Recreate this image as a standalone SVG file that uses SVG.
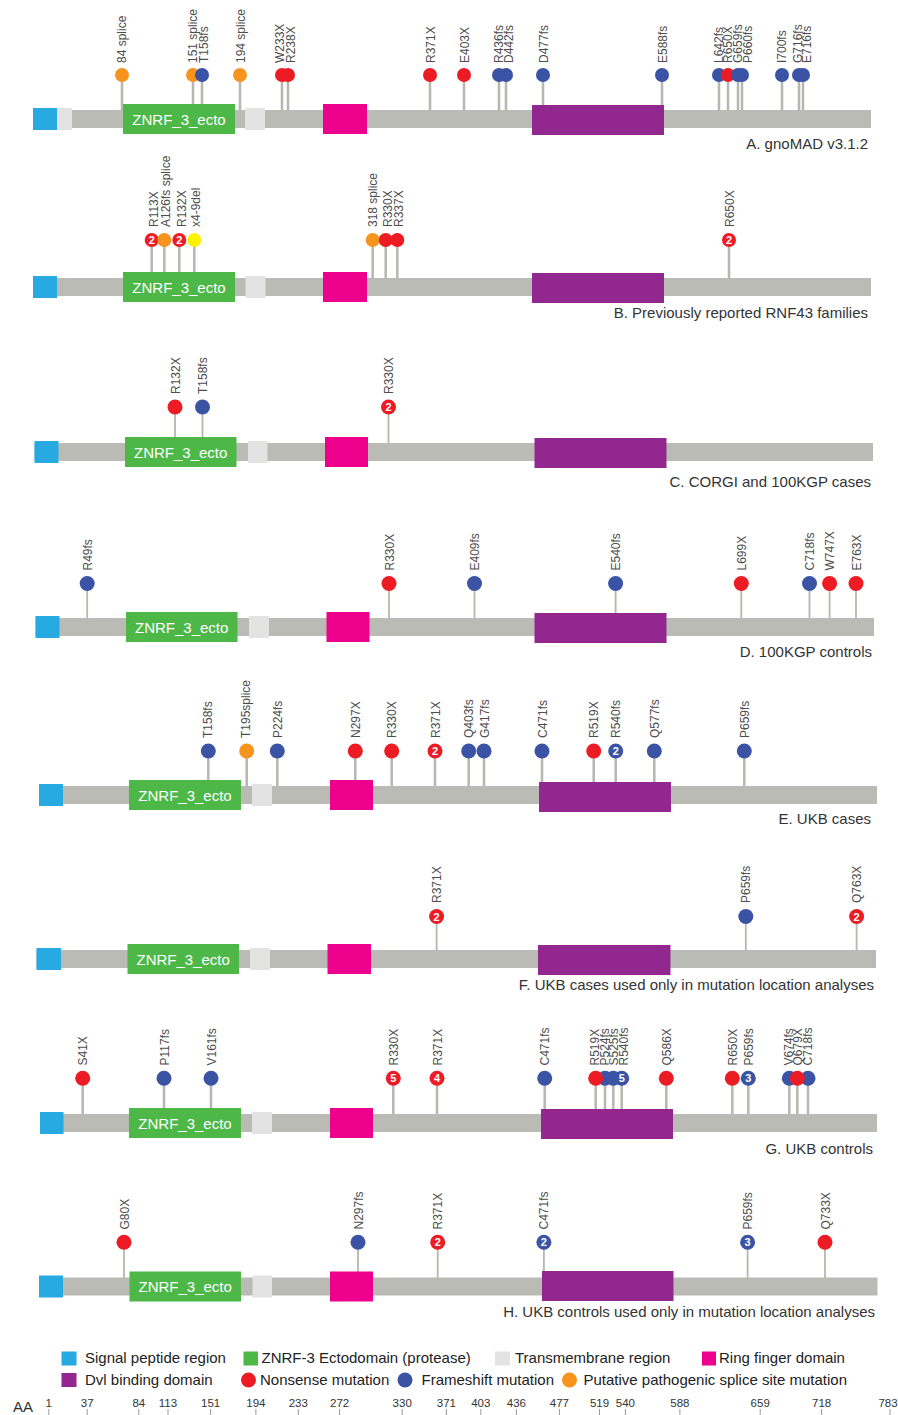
<svg xmlns="http://www.w3.org/2000/svg" width="898" height="1415" viewBox="0 0 898 1415">
<style>
text{font-family:"Liberation Sans",Arial,sans-serif}
.stem{stroke:#b5b7b0;stroke-width:2.5;fill:none}
.stem2{stroke:#b5b7b0;stroke-width:1.8;fill:none}
.lbl{font-size:12px;fill:#4d4d4d}
.num{font-size:11px;font-weight:bold;fill:#fff;text-anchor:middle}
.ttl{font-size:15px;fill:#333;text-anchor:end}
.ectxt{font-size:15px;fill:#fff;text-anchor:middle}
.leg{font-size:15px;fill:#222}
.ax{font-size:11.5px;fill:#333;text-anchor:middle}
.bar{fill:#b9bbb4}
.sig{fill:#27aae1}
.ect{fill:#4db848}
.tm{fill:#e3e3e3}
.ring{fill:#ec008c}
.dvl{fill:#92278f}
.r{fill:#ed1c24}
.b{fill:#3a53a4}
.o{fill:#f7941d}
.y{fill:#fff200}
</style>
<rect width="898" height="1415" fill="#fff"/>

<!-- Panel A -->
<g id="panelA">
<g id="A-connectors"><path class="stem" d="M122 75V119M193 75V119M202 75V119M240 75V119M282 75V119M288 75V119M430 75V119M464 75V119M499 75V119M506 75V119M543 75V119M662 75V119M719 75V119M728 75V119M738 75V119M742 75V119M782 75V119M799 75V119M803 75V119"/></g>
<g id="A-protein">
<rect class="bar" x="33" y="110" width="838" height="18"/>
<rect class="sig" x="33" y="108" width="24" height="22"/>
<rect class="tm" x="57" y="108" width="15" height="22"/>
<rect class="ect" x="123" y="104" width="112" height="30"/><text class="ectxt" x="179" y="124.5">ZNRF_3_ecto</text>
<rect class="tm" x="245" y="108" width="20" height="22"/>
<rect class="ring" x="323" y="104" width="44" height="30"/>
<rect class="dvl" x="532" y="105" width="132" height="30"/>
</g>
<g id="A-84splice"><circle class="o" cx="122" cy="75" r="7"/><text class="lbl" transform="translate(126,63) rotate(-90)">84 splice</text></g>
<g id="A-151splice"><circle class="o" cx="193" cy="75" r="7"/><text class="lbl" transform="translate(196.5,63) rotate(-90)">151 splice</text></g>
<g id="A-T158fs"><circle class="b" cx="202" cy="75" r="7"/><text class="lbl" transform="translate(207.5,63) rotate(-90)">T158fs</text></g>
<g id="A-194splice"><circle class="o" cx="240" cy="75" r="7"/><text class="lbl" transform="translate(244.5,63) rotate(-90)">194 splice</text></g>
<g id="A-W233X"><circle class="r" cx="282" cy="75" r="7"/><text class="lbl" transform="translate(283.5,63) rotate(-90)">W233X</text></g>
<g id="A-R238X"><circle class="r" cx="288" cy="75" r="7"/><text class="lbl" transform="translate(294.5,63) rotate(-90)">R238X</text></g>
<g id="A-R371X"><circle class="r" cx="430" cy="75" r="7"/><text class="lbl" transform="translate(434.5,63) rotate(-90)">R371X</text></g>
<g id="A-E403X"><circle class="r" cx="464" cy="75" r="7"/><text class="lbl" transform="translate(468.5,63) rotate(-90)">E403X</text></g>
<g id="A-R436fs"><circle class="b" cx="499" cy="75" r="7"/><text class="lbl" transform="translate(502.5,63) rotate(-90)">R436fs</text></g>
<g id="A-D442fs"><circle class="b" cx="506" cy="75" r="7"/><text class="lbl" transform="translate(513,63) rotate(-90)">D442fs</text></g>
<g id="A-D477fs"><circle class="b" cx="543" cy="75" r="7"/><text class="lbl" transform="translate(547.5,63) rotate(-90)">D477fs</text></g>
<g id="A-E588fs"><circle class="b" cx="662" cy="75" r="7"/><text class="lbl" transform="translate(666.5,63) rotate(-90)">E588fs</text></g>
<g id="A-L642fs"><circle class="b" cx="719" cy="75" r="7"/><text class="lbl" transform="translate(722.5,63) rotate(-90)">L642fs</text></g>
<g id="A-R650X"><circle class="r" cx="728" cy="75" r="7"/><text class="lbl" transform="translate(731.5,63) rotate(-90)">R650X</text></g>
<g id="A-G659fs"><circle class="b" cx="738" cy="75" r="7"/><text class="lbl" transform="translate(741.5,63) rotate(-90)">G659fs</text></g>
<g id="A-P660fs"><circle class="b" cx="742" cy="75" r="7"/><text class="lbl" transform="translate(751.5,63) rotate(-90)">P660fs</text></g>
<g id="A-I700fs"><circle class="b" cx="782" cy="75" r="7"/><text class="lbl" transform="translate(786,63) rotate(-90)">I700fs</text></g>
<g id="A-G716fs"><circle class="b" cx="799" cy="75" r="7"/><text class="lbl" transform="translate(801.5,63) rotate(-90)">G716fs</text></g>
<g id="A-E716fs"><circle class="b" cx="803" cy="75" r="7"/><text class="lbl" transform="translate(811,63) rotate(-90)">E716fs</text></g>
<text class="ttl" x="868" y="149">A. gnoMAD v3.1.2</text>
</g>

<!-- Panel B -->
<g id="panelB">
<g id="B-connectors"><path class="stem" d="M151.7 240V287M164.3 240V287M179.3 240V287M194.3 240V287M372.7 240V287M385.7 240V287M397.3 240V287M729 240V287"/></g>
<g id="B-protein">
<rect class="bar" x="33" y="278" width="838" height="18"/>
<rect class="sig" x="33" y="276" width="24" height="22"/>
<rect class="ect" x="123" y="272" width="112" height="30"/><text class="ectxt" x="179" y="292.5">ZNRF_3_ecto</text>
<rect class="tm" x="245.5" y="276" width="20" height="22"/>
<rect class="ring" x="323" y="272" width="44" height="30"/>
<rect class="dvl" x="532" y="273" width="132" height="30"/>
</g>
<g id="B-R113X"><circle class="r" cx="151.7" cy="240" r="7"/><text class="num" x="151.7" y="244">2</text><text class="lbl" transform="translate(158,227) rotate(-90)">R113X</text></g>
<g id="B-A126fs"><circle class="o" cx="164.3" cy="240" r="7"/><text class="lbl" transform="translate(170,227) rotate(-90)">A126fs splice</text></g>
<g id="B-R132X"><circle class="r" cx="179.3" cy="240" r="7"/><text class="num" x="179.3" y="244">2</text><text class="lbl" transform="translate(185.5,227) rotate(-90)">R132X</text></g>
<g id="B-x4-9del"><circle class="y" cx="194.3" cy="240" r="7"/><text class="lbl" transform="translate(200,227) rotate(-90)">x4-9del</text></g>
<g id="B-318splice"><circle class="o" cx="372.7" cy="240" r="7"/><text class="lbl" transform="translate(377,227) rotate(-90)">318 splice</text></g>
<g id="B-R330X"><circle class="r" cx="385.7" cy="240" r="7"/><text class="lbl" transform="translate(391.5,227) rotate(-90)">R330X</text></g>
<g id="B-R337X"><circle class="r" cx="397.3" cy="240" r="7"/><text class="lbl" transform="translate(403,227) rotate(-90)">R337X</text></g>
<g id="B-R650X"><circle class="r" cx="729" cy="240" r="7"/><text class="num" x="729" y="244">2</text><text class="lbl" transform="translate(733.5,227) rotate(-90)">R650X</text></g>
<text class="ttl" x="868" y="318">B. Previously reported RNF43 families</text>
</g>

<!-- Panel C -->
<g id="panelC">
<g id="C-connectors"><path class="stem2" d="M175 407V452M202.5 407V452M388.5 407V452"/></g>
<g id="C-protein">
<rect class="bar" x="34.5" y="443" width="838.5" height="18"/>
<rect class="sig" x="34.5" y="441" width="24" height="22"/>
<rect class="ect" x="125" y="437" width="111.5" height="30"/><text class="ectxt" x="180.7" y="457.5">ZNRF_3_ecto</text>
<rect class="tm" x="248" y="441" width="19.5" height="22"/>
<rect class="ring" x="325" y="437" width="43" height="30"/>
<rect class="dvl" x="534.5" y="438" width="132" height="30"/>
</g>
<g id="C-R132X"><circle class="r" cx="175" cy="407" r="7.5"/><text class="lbl" transform="translate(179.5,394) rotate(-90)">R132X</text></g>
<g id="C-T158fs"><circle class="b" cx="202.5" cy="407" r="7.5"/><text class="lbl" transform="translate(207,394) rotate(-90)">T158fs</text></g>
<g id="C-R330X"><circle class="r" cx="388.5" cy="407" r="7.5"/><text class="num" x="388.5" y="411">2</text><text class="lbl" transform="translate(393,394) rotate(-90)">R330X</text></g>
<text class="ttl" x="871" y="487">C. CORGI and 100KGP cases</text>
</g>

<!-- Panel D -->
<g id="panelD">
<g id="D-connectors"><path class="stem2" d="M87.2 583.5V627M389 583.5V627M474.5 583.5V627M615.6 583.5V627M741.3 583.5V627M809.5 583.5V627M829.6 583.5V627M856 583.5V627"/></g>
<g id="D-protein">
<rect class="bar" x="35.5" y="618" width="838.5" height="18"/>
<rect class="sig" x="35.5" y="616" width="24" height="22"/>
<rect class="ect" x="126" y="612" width="111.5" height="30"/><text class="ectxt" x="181.7" y="632.5">ZNRF_3_ecto</text>
<rect class="tm" x="249" y="616" width="20" height="22"/>
<rect class="ring" x="326.5" y="612" width="43" height="30"/>
<rect class="dvl" x="534.5" y="613" width="132" height="30"/>
</g>
<g id="D-R49fs"><circle class="b" cx="87.2" cy="583.5" r="7.5"/><text class="lbl" transform="translate(91.7,570.5) rotate(-90)">R49fs</text></g>
<g id="D-R330X"><circle class="r" cx="389" cy="583.5" r="7.5"/><text class="lbl" transform="translate(393.5,570.5) rotate(-90)">R330X</text></g>
<g id="D-E409fs"><circle class="b" cx="474.5" cy="583.5" r="7.5"/><text class="lbl" transform="translate(479,570.5) rotate(-90)">E409fs</text></g>
<g id="D-E540fs"><circle class="b" cx="615.6" cy="583.5" r="7.5"/><text class="lbl" transform="translate(620,570.5) rotate(-90)">E540fs</text></g>
<g id="D-L699X"><circle class="r" cx="741.3" cy="583.5" r="7.5"/><text class="lbl" transform="translate(745.8,570.5) rotate(-90)">L699X</text></g>
<g id="D-C718fs"><circle class="b" cx="809.5" cy="583.5" r="7.5"/><text class="lbl" transform="translate(814,570.5) rotate(-90)">C718fs</text></g>
<g id="D-W747X"><circle class="r" cx="829.6" cy="583.5" r="7.5"/><text class="lbl" transform="translate(834,570.5) rotate(-90)">W747X</text></g>
<g id="D-E763X"><circle class="r" cx="856" cy="583.5" r="7.5"/><text class="lbl" transform="translate(860.5,570.5) rotate(-90)">E763X</text></g>
<text class="ttl" x="872" y="657">D. 100KGP controls</text>
</g>

<!-- Panel E -->
<g id="panelE">
<g id="E-connectors"><path class="stem" d="M208.3 751V795M246.7 751V795M277.3 751V795M355.3 751V795M391.7 751V795M435 751V795M468.7 751V795M484 751V795M542 751V795M593.7 751V795M615.7 751V795M654.3 751V795M744.3 751V795"/></g>
<g id="E-protein">
<rect class="bar" x="39" y="786" width="838" height="18"/>
<rect class="sig" x="39" y="784" width="24" height="22"/>
<rect class="ect" x="129" y="780" width="112" height="30"/><text class="ectxt" x="185" y="800.5">ZNRF_3_ecto</text>
<rect class="tm" x="252" y="784" width="20" height="22"/>
<rect class="ring" x="330" y="780" width="43" height="30"/>
<rect class="dvl" x="539" y="782" width="132" height="30"/>
</g>
<g id="E-T158fs"><circle class="b" cx="208.3" cy="751" r="7.5"/><text class="lbl" transform="translate(212.3,738) rotate(-90)">T158fs</text></g>
<g id="E-T195splice"><circle class="o" cx="246.7" cy="751" r="7.5"/><text class="lbl" transform="translate(249.5,738) rotate(-90)">T195splice</text></g>
<g id="E-P224fs"><circle class="b" cx="277.3" cy="751" r="7.5"/><text class="lbl" transform="translate(281.8,738) rotate(-90)">P224fs</text></g>
<g id="E-N297X"><circle class="r" cx="355.3" cy="751" r="7.5"/><text class="lbl" transform="translate(359.8,738) rotate(-90)">N297X</text></g>
<g id="E-R330X"><circle class="r" cx="391.7" cy="751" r="7.5"/><text class="lbl" transform="translate(396.2,738) rotate(-90)">R330X</text></g>
<g id="E-R371X"><circle class="r" cx="435" cy="751" r="7.5"/><text class="num" x="435" y="755">2</text><text class="lbl" transform="translate(439.5,738) rotate(-90)">R371X</text></g>
<g id="E-Q403fs"><circle class="b" cx="468.7" cy="751" r="7.5"/><text class="lbl" transform="translate(473.2,738) rotate(-90)">Q403fs</text></g>
<g id="E-G417fs"><circle class="b" cx="484" cy="751" r="7.5"/><text class="lbl" transform="translate(488.5,738) rotate(-90)">G417fs</text></g>
<g id="E-C471fs"><circle class="b" cx="542" cy="751" r="7.5"/><text class="lbl" transform="translate(546.5,738) rotate(-90)">C471fs</text></g>
<g id="E-R519X"><circle class="r" cx="593.7" cy="751" r="7.5"/><text class="lbl" transform="translate(598.2,738) rotate(-90)">R519X</text></g>
<g id="E-R540fs"><circle class="b" cx="615.7" cy="751" r="7.5"/><text class="num" x="615.7" y="755">2</text><text class="lbl" transform="translate(620.2,738) rotate(-90)">R540fs</text></g>
<g id="E-Q577fs"><circle class="b" cx="654.3" cy="751" r="7.5"/><text class="lbl" transform="translate(658.8,738) rotate(-90)">Q577fs</text></g>
<g id="E-P659fs"><circle class="b" cx="744.3" cy="751" r="7.5"/><text class="lbl" transform="translate(748.8,738) rotate(-90)">P659fs</text></g>
<text class="ttl" x="871" y="824">E. UKB cases</text>
</g>

<!-- Panel F -->
<g id="panelF">
<g id="F-connectors"><path class="stem2" d="M436.6 916.5V959M745.8 916.5V959M856.6 916.5V959"/></g>
<g id="F-protein">
<rect class="bar" x="36.5" y="950" width="839.5" height="18"/>
<rect class="sig" x="36.5" y="948" width="24.5" height="22"/>
<rect class="ect" x="127.5" y="944" width="111.5" height="30"/><text class="ectxt" x="183.2" y="964.5">ZNRF_3_ecto</text>
<rect class="tm" x="250" y="948" width="20" height="22"/>
<rect class="ring" x="327.5" y="944" width="43.5" height="30"/>
<rect class="dvl" x="538" y="945" width="132.5" height="30"/>
</g>
<g id="F-R371X"><circle class="r" cx="436.6" cy="916.5" r="7.5"/><text class="num" x="436.6" y="920.5">2</text><text class="lbl" transform="translate(441,903) rotate(-90)">R371X</text></g>
<g id="F-P659fs"><circle class="b" cx="745.8" cy="916.5" r="7.5"/><text class="lbl" transform="translate(750.3,903) rotate(-90)">P659fs</text></g>
<g id="F-Q763X"><circle class="r" cx="856.6" cy="916.5" r="7.5"/><text class="num" x="856.6" y="920.5">2</text><text class="lbl" transform="translate(861,903) rotate(-90)">Q763X</text></g>
<text class="ttl" x="874" y="990">F. UKB cases used only in mutation location analyses</text>
</g>

<!-- Panel G -->
<g id="panelG">
<g id="G-connectors"><path class="stem" d="M82.7 1078.3V1123M164 1078.3V1123M211 1078.3V1123M393.3 1078.3V1123M437 1078.3V1123M544.7 1078.3V1123M595.7 1078.3V1123M605 1078.3V1123M613.3 1078.3V1123M621.7 1078.3V1123M666.3 1078.3V1123M732.3 1078.3V1123M748.3 1078.3V1123M789.3 1078.3V1123M797.3 1078.3V1123M808 1078.3V1123"/></g>
<g id="G-protein">
<rect class="bar" x="40" y="1114" width="837" height="18"/>
<rect class="sig" x="40" y="1112" width="23.5" height="22"/>
<rect class="ect" x="129" y="1108" width="112" height="30"/><text class="ectxt" x="185" y="1128.5">ZNRF_3_ecto</text>
<rect class="tm" x="252" y="1112" width="20" height="22"/>
<rect class="ring" x="330" y="1108" width="43" height="30"/>
<rect class="dvl" x="541" y="1109" width="132" height="30"/>
</g>
<g id="G-S41X"><circle class="r" cx="82.7" cy="1078.3" r="7.5"/><text class="lbl" transform="translate(87.2,1065.5) rotate(-90)">S41X</text></g>
<g id="G-P117fs"><circle class="b" cx="164" cy="1078.3" r="7.5"/><text class="lbl" transform="translate(168.5,1065.5) rotate(-90)">P117fs</text></g>
<g id="G-V161fs"><circle class="b" cx="211" cy="1078.3" r="7.5"/><text class="lbl" transform="translate(215.5,1065.5) rotate(-90)">V161fs</text></g>
<g id="G-R330X"><circle class="r" cx="393.3" cy="1078.3" r="7.5"/><text class="num" x="393.3" y="1082.3">5</text><text class="lbl" transform="translate(397.8,1065.5) rotate(-90)">R330X</text></g>
<g id="G-R371X"><circle class="r" cx="437" cy="1078.3" r="7.5"/><text class="num" x="437" y="1082.3">4</text><text class="lbl" transform="translate(441.5,1065.5) rotate(-90)">R371X</text></g>
<g id="G-C471fs"><circle class="b" cx="544.7" cy="1078.3" r="7.5"/><text class="lbl" transform="translate(549.2,1065.5) rotate(-90)">C471fs</text></g>
<g id="G-S525fs"><circle class="b" cx="613.3" cy="1078.3" r="7.5"/><text class="lbl" transform="translate(618,1065.5) rotate(-90)">S525fs</text></g>
<g id="G-P524fs"><circle class="b" cx="605" cy="1078.3" r="7.5"/><text class="lbl" transform="translate(608.5,1065.5) rotate(-90)">P524fs</text></g>
<g id="G-R519X"><circle class="r" cx="595.7" cy="1078.3" r="7.5"/><text class="lbl" transform="translate(599,1065.5) rotate(-90)">R519X</text></g>
<g id="G-R540fs"><circle class="b" cx="621.7" cy="1078.3" r="7.5"/><text class="num" x="621.7" y="1082.3">5</text><text class="lbl" transform="translate(627.5,1065.5) rotate(-90)">R540fs</text></g>
<g id="G-Q586X"><circle class="r" cx="666.3" cy="1078.3" r="7.5"/><text class="lbl" transform="translate(670.8,1065.5) rotate(-90)">Q586X</text></g>
<g id="G-R650X"><circle class="r" cx="732.3" cy="1078.3" r="7.5"/><text class="lbl" transform="translate(736.8,1065.5) rotate(-90)">R650X</text></g>
<g id="G-P659fs"><circle class="b" cx="748.3" cy="1078.3" r="7.5"/><text class="num" x="748.3" y="1082.3">3</text><text class="lbl" transform="translate(752.8,1065.5) rotate(-90)">P659fs</text></g>
<g id="G-V674fs"><circle class="b" cx="789.3" cy="1078.3" r="7.5"/><text class="lbl" transform="translate(792.5,1065.5) rotate(-90)">V674fs</text></g>
<g id="G-C718fs"><circle class="b" cx="808" cy="1078.3" r="7.5"/><text class="lbl" transform="translate(812,1065.5) rotate(-90)">C718fs</text></g>
<g id="G-Q679X"><circle class="r" cx="797.3" cy="1078.3" r="7.5"/><text class="lbl" transform="translate(802,1065.5) rotate(-90)">Q679X</text></g>
<text class="ttl" x="873" y="1154">G. UKB controls</text>
</g>

<!-- Panel H -->
<g id="panelH">
<g id="H-connectors"><path class="stem2" d="M124 1242.3V1286.5M358 1242.3V1286.5M437.7 1242.3V1286.5M543.9 1242.3V1286.5M747.6 1242.3V1286.5M825 1242.3V1286.5"/></g>
<g id="H-protein">
<rect class="bar" x="39" y="1277.5" width="838.5" height="18"/>
<rect class="sig" x="39" y="1275.5" width="24" height="22"/>
<rect class="ect" x="129.5" y="1271.5" width="111.5" height="30"/><text class="ectxt" x="185.2" y="1292">ZNRF_3_ecto</text>
<rect class="tm" x="252.5" y="1275.5" width="19.5" height="22"/>
<rect class="ring" x="330" y="1271.5" width="43" height="30"/>
<rect class="dvl" x="542" y="1271" width="131.5" height="30"/>
</g>
<g id="H-G80X"><circle class="r" cx="124" cy="1242.3" r="7.5"/><text class="lbl" transform="translate(128.5,1229.5) rotate(-90)">G80X</text></g>
<g id="H-N297fs"><circle class="b" cx="358" cy="1242.3" r="7.5"/><text class="lbl" transform="translate(362.5,1229.5) rotate(-90)">N297fs</text></g>
<g id="H-R371X"><circle class="r" cx="437.7" cy="1242.3" r="7.5"/><text class="num" x="437.7" y="1246.3">2</text><text class="lbl" transform="translate(442.2,1229.5) rotate(-90)">R371X</text></g>
<g id="H-C471fs"><circle class="b" cx="543.9" cy="1242.3" r="7.5"/><text class="num" x="543.9" y="1246.3">2</text><text class="lbl" transform="translate(548.4,1229.5) rotate(-90)">C471fs</text></g>
<g id="H-P659fs"><circle class="b" cx="747.6" cy="1242.3" r="7.5"/><text class="num" x="747.6" y="1246.3">3</text><text class="lbl" transform="translate(752.1,1229.5) rotate(-90)">P659fs</text></g>
<g id="H-Q733X"><circle class="r" cx="825" cy="1242.3" r="7.5"/><text class="lbl" transform="translate(829.5,1229.5) rotate(-90)">Q733X</text></g>
<text class="ttl" x="875" y="1317">H. UKB controls used only in mutation location analyses</text>
</g>

<!-- Legend -->
<g id="legend">
<rect class="sig" x="61.5" y="1351.5" width="15" height="14"/><text class="leg" x="85" y="1362.5">Signal peptide region</text>
<rect class="ect" x="243.5" y="1351.5" width="14.5" height="14"/><text class="leg" x="261.5" y="1362.5">ZNRF-3 Ectodomain (protease)</text>
<rect class="tm" x="495" y="1351.5" width="15" height="14"/><text class="leg" x="515" y="1362.5">Transmembrane region</text>
<rect class="ring" x="702" y="1351.5" width="14" height="14"/><text class="leg" x="719" y="1362.5">Ring finger domain</text>
<rect class="dvl" x="61.5" y="1373" width="15" height="14"/><text class="leg" x="85" y="1384.5">Dvl binding domain</text>
<circle class="r" cx="248.5" cy="1380" r="7.5"/><text class="leg" x="260" y="1384.5">Nonsense mutation</text>
<circle class="b" cx="405" cy="1380" r="7.5"/><text class="leg" x="421.5" y="1384.5">Frameshift mutation</text>
<circle class="o" cx="569.5" cy="1380" r="7.5"/><text class="leg" x="583.5" y="1384.5">Putative pathogenic splice site mutation</text>
</g>

<!-- Axis -->
<g id="axis">
<text x="13" y="1412" style="font-size:15px;fill:#333">AA</text>
<path d="M48.8 1409V1415M87.2 1409V1415M138.8 1409V1415M168 1409V1415M210.6 1409V1415M255.9 1409V1415M298.3 1409V1415M339.6 1409V1415M402.2 1409V1415M446.4 1409V1415M480.8 1409V1415M516.4 1409V1415M559.4 1409V1415M599.5 1409V1415M625.4 1409V1415M679.9 1409V1415M760.2 1409V1415M821.6 1409V1415M890 1409V1415" stroke="#999" stroke-width="1"/>
<text class="ax" x="48.8" y="1406.5">1</text>
<text class="ax" x="87.2" y="1406.5">37</text>
<text class="ax" x="138.8" y="1406.5">84</text>
<text class="ax" x="168" y="1406.5">113</text>
<text class="ax" x="210.6" y="1406.5">151</text>
<text class="ax" x="255.9" y="1406.5">194</text>
<text class="ax" x="298.3" y="1406.5">233</text>
<text class="ax" x="339.6" y="1406.5">272</text>
<text class="ax" x="402.2" y="1406.5">330</text>
<text class="ax" x="446.4" y="1406.5">371</text>
<text class="ax" x="480.8" y="1406.5">403</text>
<text class="ax" x="516.4" y="1406.5">436</text>
<text class="ax" x="559.4" y="1406.5">477</text>
<text class="ax" x="599.5" y="1406.5">519</text>
<text class="ax" x="625.4" y="1406.5">540</text>
<text class="ax" x="679.9" y="1406.5">588</text>
<text class="ax" x="760.2" y="1406.5">659</text>
<text class="ax" x="821.6" y="1406.5">718</text>
<text class="ax" x="888" y="1406.5">783</text>
</g>
</svg>
